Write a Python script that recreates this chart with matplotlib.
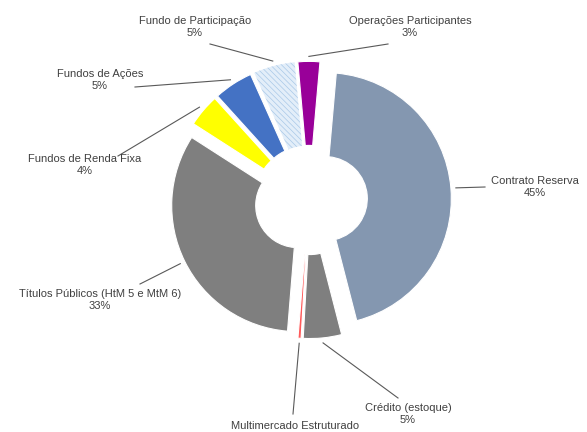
import numpy as np
import matplotlib.pyplot as plt

plt.rcParams['font.family'] = ['Liberation Sans', 'DejaVu Sans']
plt.rcParams['hatch.linewidth'] = 0.5

# --- data ---
categories = ['Contrato Reserva', 'Crédito (estoque)', 'Multimercado Estruturado',
              'Títulos Públicos (HtM 5 e MtM 6)', 'Fundos de Renda Fixa',
              'Fundos de Ações', 'Fundo de Participação', 'Operações Participantes']
shares = [44.6, 4.9, 0.4, 32.8, 4.2, 5.0, 5.3, 2.8]
pct_labels = ['45%', '5%', '', '33%', '4%', '5%', '5%', '3%']

# --- style / layout ---
colors = ['#8497B0', '#7F7F7F', '#FF5A5A', '#7F7F7F', '#FFFF00',
          '#4472C4', '#E3EEF9', '#990099']
explode_frac = [0.13, 0.10, 0.10, 0.10, 0.10, 0.10, 0.10, 0.10]

W, H = 587, 432
cx, cy = 309, 200          # donut centre (pixels from top-left)
R, ring = 126, 84

# label text centre and leader-line end (pixels from top-left)
text_pos = [(535, 187), (408, 414), (295, 426), (100, 300),
            (85, 165), (100, 80), (195, 27), (410, 27)]
line_end = [(485, 187), (398, 398), (293, 414), (140, 284),
            (118, 156), (135, 87), (210, 44), (388, 44)]

fig = plt.figure(figsize=(W / 100, H / 100), dpi=100)
ax = fig.add_axes([0, 0, 1, 1])

start = 85
wedges, _ = ax.pie(shares, colors=colors, startangle=start, counterclock=False,
                   radius=R, center=(cx, H - cy),
                   explode=[e * R for e in explode_frac],
                   wedgeprops=dict(width=ring, edgecolor='white', linewidth=0.8))
wedges[6].set_hatch('\\\\\\\\\\\\')
wedges[6].set_edgecolor('#A9C8E8')
wedges[6].set_linewidth(0)

ax.set_xlim(0, W)
ax.set_ylim(0, H)
ax.set_aspect('equal')
ax.axis('off')

total = sum(shares)
cum = 0
for i, (name, val) in enumerate(zip(categories, shares)):
    a1 = start - 360 * cum / total
    a2 = a1 - 360 * val / total
    cum += val
    mid = np.deg2rad((a1 + a2) / 2)
    off = explode_frac[i] * R + R + 5
    px, py = cx + off * np.cos(mid), (H - cy) + off * np.sin(mid)
    lx, ly = line_end[i]
    ax.plot([px, lx], [py, H - ly], color='#595959', lw=0.8)
    txt = name if not pct_labels[i] else name + '\n' + pct_labels[i]
    tx, ty = text_pos[i]
    ax.text(tx, H - ty, txt, ha='center', va='center', fontsize=8,
            color='#404040', linespacing=1.2)

fig.savefig('out.png', dpi=100)
